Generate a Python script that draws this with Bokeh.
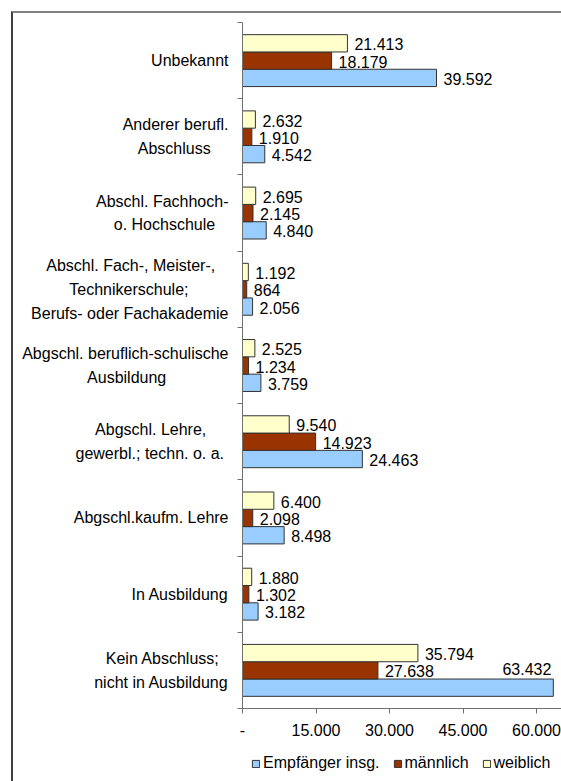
from bokeh.plotting import figure
from bokeh.layouts import column
from bokeh.models import Range1d, FixedTicker, ColumnDataSource, Legend, LegendItem, InlineStyleSheet
from bokeh.embed import file_html
from bokeh.resources import INLINE
from bokeh.core.properties import value

# ---- data (top to bottom as in the chart) ----
categories = [
    "Unbekannt",
    "Anderer berufl.\nAbschluss",
    "Abschl. Fachhoch-\no. Hochschule",
    "Abschl. Fach-, Meister-,\nTechnikerschule;\nBerufs- oder Fachakademie",
    "Abgschl. beruflich-schulische\nAusbildung",
    "Abgschl. Lehre,\ngewerbl.;  techn. o. a.",
    "Abgschl.kaufm. Lehre",
    "In Ausbildung",
    "Kein Abschluss;\nnicht in Ausbildung",
]
empfaenger_insg = [39592, 4542, 4840, 2056, 3759, 24463, 8498, 3182, 63432]
maennlich = [18179, 1910, 2145, 864, 1234, 14923, 2098, 1302, 27638]
weiblich = [21413, 2632, 2695, 1192, 2525, 9540, 6400, 1880, 35794]
series_names = ["Empfänger insg.", "männlich", "weiblich"]
series_colors = ["#99CCFF", "#993300", "#FFFFCC"]
x_ticks = [0, 15000, 30000, 45000, 60000]
x_tick_labels = ["-", "15.000", "30.000", "45.000", "60.000"]

FONT = "Liberation Sans"
FS = "16px"
AXIS_COLOR = "#707070"
BAR_LINE = "#333333"
X_END = 65100
BAR_H = 0.227

# approximate Arial/Liberation advance widths (per 1000 em) to centre multi-line labels
_W = {" ": 278, ",": 278, "-": 333, ".": 278, ";": 278, "A": 667, "B": 667, "F": 611,
      "K": 667, "T": 611, "U": 722, "I": 278, "M": 833, "H": 722,
      "a": 556, "b": 556, "c": 500, "d": 556, "e": 556, "f": 278, "g": 556, "h": 556,
      "i": 222, "j": 222, "k": 500, "l": 222, "m": 833, "n": 556, "o": 556, "p": 556,
      "q": 556, "r": 333, "s": 500, "t": 278, "u": 556, "v": 500, "w": 722, "x": 500,
      "y": 500, "z": 500}


def _width(s):
    return sum(_W.get(ch, 556) for ch in s)


def centre_lines(label):
    lines = label.split("\n")
    if len(lines) == 1:
        return label
    wmax = max(_width(l) for l in lines)
    out = []
    for l in lines:
        k = int(round((wmax - _width(l)) / 2 / 278))
        out.append(l + "\u00a0" * k)
    return "\n".join(out)


def frame_css(top):
    return InlineStyleSheet(css=(
        ":host { position: relative; overflow: visible; }"
        ":host::before { content: ''; position: absolute; left: 11px; top: %dpx; right: 0; bottom: 0;"
        " %s border-left: 2px solid #404040;"
        " pointer-events: none; z-index: 100; }"
    ) % (top, "border-top: 2px solid #808080;" if top > 0 else ""))


n = len(categories)
centers = [n - 1 - i + 0.5 for i in range(n)]

MAIN_H = 743
LEG_H = 781 - MAIN_H

p = figure(width=561, height=MAIN_H,
           x_range=Range1d(0, X_END), y_range=Range1d(0, n),
           output_backend="svg", toolbar_location=None,
           min_border_left=242, min_border_top=22,
           min_border_bottom=MAIN_H - 708, min_border_right=0)
p.stylesheets = [frame_css(11)]
p.outline_line_color = None
p.xgrid.visible = False
p.ygrid.visible = False
p.background_fill_color = None
p.border_fill_color = None


def fmt(v):
    return f"{v:,}".replace(",", ".")


series = [
    (empfaenger_insg, series_colors[0], -BAR_H),
    (maennlich, series_colors[1], 0.0),
    (weiblich, series_colors[2], BAR_H),
]

for (vals, color, off), name in zip(series, series_names):
    ys = [c + off for c in centers]
    src = ColumnDataSource(dict(y=ys, right=vals))
    p.hbar(y="y", right="right", left=0, height=BAR_H, source=src,
           fill_color=color, line_color=BAR_LINE, line_width=1)

    normal = [(v, y) for v, y in zip(vals, ys) if v / X_END <= 0.85]
    inside = [(v, y) for v, y in zip(vals, ys) if v / X_END > 0.85]
    if normal:
        s1 = ColumnDataSource(dict(x=[a for a, _ in normal], y=[b for _, b in normal],
                                   t=[fmt(a) for a, _ in normal]))
        p.text(x="x", y="y", text="t", source=s1, x_offset=7, y_offset=1,
               text_align="left", text_baseline="middle",
               text_font=value(FONT), text_font_size=FS, text_color="black")
    if inside:
        s2 = ColumnDataSource(dict(x=[a for a, _ in inside], y=[b for _, b in inside],
                                   t=[fmt(a) for a, _ in inside]))
        p.text(x="x", y="y", text="t", source=s2, x_offset=-2, y_offset=-19,
               text_align="right", text_baseline="middle",
               text_font=value(FONT), text_font_size=FS, text_color="black")

# y axis: labels at centers, tick marks at category boundaries
yax = p.yaxis[0]
yax.ticker = FixedTicker(ticks=centers, minor_ticks=list(range(n + 1)))
yax.major_label_overrides = {c: centre_lines(lab) for c, lab in zip(centers, categories)}
yax.major_tick_line_color = None
yax.major_tick_out = 0
yax.major_tick_in = 0
yax.minor_tick_out = 5
yax.minor_tick_in = 0
yax.minor_tick_line_color = AXIS_COLOR
yax.axis_line_color = AXIS_COLOR
yax.major_label_standoff = 9
yax.major_label_text_font = FONT
yax.major_label_text_font_size = FS
yax.major_label_text_color = "black"
yax.major_label_text_line_height = 1.4

xax = p.xaxis[0]
xax.ticker = FixedTicker(ticks=x_ticks, minor_ticks=[])
xax.major_label_overrides = {t: lab for t, lab in zip(x_ticks, x_tick_labels)}
xax.major_tick_out = 5
xax.major_tick_in = 0
xax.major_tick_line_color = AXIS_COLOR
xax.minor_tick_line_color = None
xax.axis_line_color = AXIS_COLOR
xax.major_label_standoff = 10
xax.major_label_text_font = FONT
xax.major_label_text_font_size = FS
xax.major_label_text_color = "black"

# ---- legend strip below the chart (its frame is aligned with the chart frame) ----
lf = figure(width=561, height=LEG_H, x_range=Range1d(0, 1), y_range=Range1d(0, 1),
            output_backend="svg", toolbar_location=None,
            x_axis_location=None, y_axis_location=None,
            min_border_left=242, min_border_right=0, min_border_top=0, min_border_bottom=0)
lf.stylesheets = [frame_css(0)]
lf.outline_line_color = None
lf.xgrid.visible = False
lf.ygrid.visible = False
lf.background_fill_color = None
lf.border_fill_color = None

items = []
for name, color in zip(series_names, series_colors):
    # legend-only renderer: one bar placed outside the visible range
    r = lf.hbar(y=[-5], right=[1], left=0, height=0.5,
                fill_color=color, line_color=BAR_LINE, line_width=1)
    items.append(LegendItem(label=name, renderers=[r]))

legend = Legend(items=items, location=(9, 9), orientation="horizontal",
                glyph_width=9, glyph_height=9, label_standoff=3, spacing=13,
                padding=0, margin=0, border_line_color=None,
                background_fill_alpha=0,
                label_text_font=FONT, label_text_font_size=FS, label_text_color="black")
lf.add_layout(legend, "center")

layout = column(p, lf, spacing=0)
open("out.html", "w").write(file_html(layout, INLINE))
